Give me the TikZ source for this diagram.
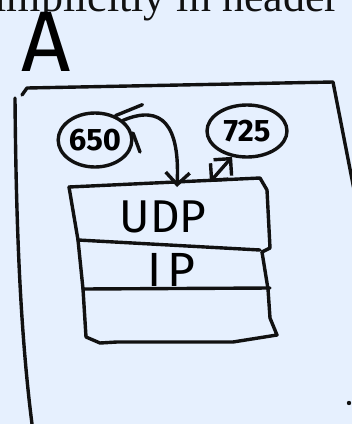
\documentclass[tikz,border=0pt]{standalone}
\usepackage{fontspec}
\setmainfont{Liberation Serif}
\newfontfamily\handfont{Fira Sans}
\usetikzlibrary{positioning, arrows.meta, shapes.geometric}
\definecolor{slidebg}{HTML}{E6F0FE}
\definecolor{ink}{HTML}{111111}
\tikzset{
  sketch/.style={
	x=1pt, y=-1pt, % pixel-like units, y grows downwards
	line width=3.4pt, % thick pen strokes
	line cap=round, line join=round,
	draw=ink,
	>={Straight Barb[length=12pt,width=24pt]}, % open pen arrow heads
  },
  port/.style={draw, ellipse, inner sep=0pt, font=\handfont\bfseries\fontsize{31}{31}\selectfont}, % port numbers
  layer/.style={font=\handfont\fontsize{46}{46}\selectfont, inner sep=0pt}, % protocol names
  header/.style={font=\fontsize{44}{44}\selectfont, text=ink, inner sep=0pt},
}
\begin{document}
\begin{tikzpicture}[sketch]
	\useasboundingbox (0,0) rectangle (352,424);
	\fill[slidebg] (0,0) rectangle (352,424);
	\clip (0,0) rectangle (352,424);
	% slide text cut off at the top
	\node[header, anchor=base east] (hdr) at (341,11) {implicitly in header};
	% host label
	\node[font=\handfont\fontsize{86}{86}\selectfont, inner sep=0pt] (hostA) at (46,42) {A};
	% host frame
	\draw (22,95) -- (27,88) -- (333,82) -- (358,210);
	\draw (15,98) .. controls (16,220) and (20,330) .. (32,424);
	\fill[ink] (349,403) circle (2.2);
	% protocol stack
	\draw (69,187) -- (260,178) -- (267,190) -- (270,248) -- (262,252);
	\draw (69,187) -- (78,240) -- (260,250);
	\draw (78,240) -- (83,289) -- (270,288);
	\draw (262,252) -- (268,289);
	\draw (83,289) -- (86,337) -- (100,343) -- (117,342) -- (233,342) -- (277,335) -- (270,318) -- (268,289);
	\node[layer] (udp) at (163,217) {UDP};
	\node[layer, font=\handfont\fontsize{48}{48}\selectfont\addfontfeatures{LetterSpace=12}] (ip) at (171,270) {IP};
	% ports
	\node[port, minimum width=64pt, minimum height=54pt] (p650) at (95,140) {650};
	\node[port, minimum width=80pt, minimum height=52pt] (p725) at (247,131) {725};
	\coordinate (udpin) at (177,187);
	\coordinate (udpout) at (210,182);
	\draw[->] (p650.35) .. controls (162,104) and (180,125) .. (udpin);
	\draw (p650.50) -- ++(27,-11);
	\draw (133,133) -- (140,152);
	\draw[<->] (udpout) -- (p725.240);
\end{tikzpicture}
\end{document}
